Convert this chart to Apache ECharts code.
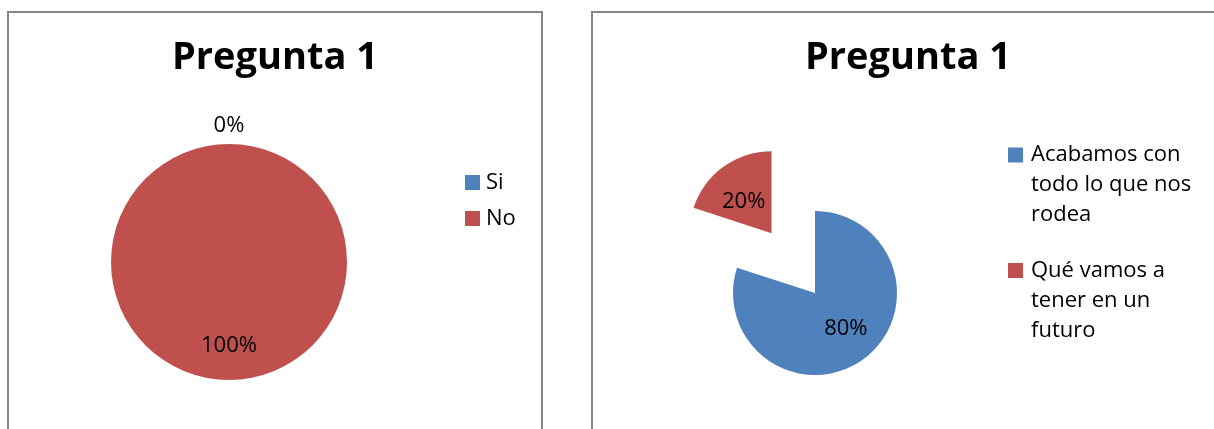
<!DOCTYPE html>
<html>
<head>
<meta charset="utf-8">
<script src="https://cdn.jsdelivr.net/npm/echarts@6/dist/echarts.min.js"></script>
<style>
  html, body { margin: 0; padding: 0; background: #fff; width: 1214px; height: 429px; overflow: hidden; }
  .box { position: absolute; box-sizing: border-box; border: 2px solid #868686; background: #fff; }
  #left { left: 7px; top: 11px; width: 536px; height: 440px; }
  #right { left: 591px; top: 11px; width: 634px; height: 440px; }
  .chart { width: 100%; height: 100%; }
</style>
</head>
<body>
<div class="box" id="left"><div class="chart" id="c1"></div></div>
<div class="box" id="right"><div class="chart" id="c2"></div></div>
<script>
// Question 1, first version: yes / no answers
const titleText = 'Pregunta 1';
const cats1 = ['Si', 'No'];
const vals1 = [0, 100];

// Question 1, second version: two answer options
const cats2 = ['Acabamos con todo lo que nos rodea', 'Qué vamos a tener en un futuro'];
const vals2 = [80, 20];
const legendLines2 = [['Acabamos con', 'todo lo que nos', 'rodea'], ['Qué vamos a', 'tener en un', 'futuro']];

const BLUE = '#4F81BD';
const RED = '#C0504D';
const FONT = '"Open Sans", sans-serif';

const textRich = { fontFamily: FONT, fontSize: 22, lineHeight: 30, color: '#000' };

// Percentage text, optionally with a blank spacer line above or below it
function pctLabel(spacerAbove, spacerBelow) {
  return p => {
    const t = '{t|' + Math.round(p.percent) + '%}';
    if (spacerAbove) return '{sa| }\n' + t;
    if (spacerBelow) return t + '\n{sb| }';
    return t;
  };
}

function pieLabel(spacerAbove, spacerBelow, padding) {
  return {
    position: 'inside',
    formatter: pctLabel(spacerAbove, spacerBelow),
    padding: padding || 0,
    rich: {
      t: textRich,
      sa: { fontSize: 1, lineHeight: spacerAbove || 1 },
      sb: { fontSize: 1, lineHeight: spacerBelow || 1 }
    }
  };
}

function titleOpt() {
  return {
    text: titleText,
    left: 'center',
    top: 26,
    padding: 0,
    textStyle: { fontFamily: FONT, fontWeight: 'bold', fontSize: 38, color: '#000' }
  };
}

// Left pie
const chart1 = echarts.init(document.getElementById('c1'), null, { renderer: 'canvas' });
chart1.setOption({
  animation: false,
  title: titleOpt(),
  legend: {
    orient: 'vertical',
    left: 456,
    top: 158.5,
    padding: 0,
    itemWidth: 15,
    itemHeight: 15,
    itemGap: 14,
    icon: 'rect',
    selectedMode: false,
    data: cats1,
    textStyle: { fontFamily: FONT, fontSize: 22, color: '#000', padding: [0, 0, 0, 1] }
  },
  series: [{
    type: 'pie',
    center: [220, 249],
    radius: 118,
    startAngle: 90,
    clockwise: true,
    avoidLabelOverlap: false,
    minShowLabelAngle: 0,
    labelLine: { show: false },
    emphasis: { disabled: true },
    data: cats1.map((name, i) => ({
      name,
      value: vals1[i],
      itemStyle: { color: i === 0 ? BLUE : RED },
      label: i === 0 ? pieLabel(0, 148) : pieLabel(44, 0)
    }))
  }]
});

// Right pie with the second slice pulled out
const chart2 = echarts.init(document.getElementById('c2'), null, { renderer: 'canvas' });
chart2.setOption({
  animation: false,
  title: titleOpt(),
  legend: {
    orient: 'vertical',
    left: 415,
    top: 96.5,
    padding: 0,
    itemWidth: 15,
    itemHeight: 15,
    itemGap: -1,
    icon: 'rect',
    selectedMode: false,
    data: cats2,
    formatter: name => '{sp| }\n' + legendLines2[cats2.indexOf(name)].map(s => '{t|' + s + '}').join('\n'),
    textStyle: {
      fontFamily: FONT, fontSize: 22, color: '#000', padding: [0, 0, 0, 3],
      rich: { t: textRich, sp: { fontSize: 1, lineHeight: 60 } }
    }
  },
  series: [{
    type: 'pie',
    center: [222, 280],
    radius: 82,
    startAngle: 90,
    clockwise: true,
    avoidLabelOverlap: false,
    selectedMode: 'single',
    selectedOffset: 74,
    labelLine: { show: false },
    emphasis: { disabled: true },
    data: cats2.map((name, i) => ({
      name,
      value: vals2[i],
      selected: i === 1,
      itemStyle: { color: i === 0 ? BLUE : RED },
      label: i === 0 ? pieLabel(0, 0, [0, 0, 0, 10]) : pieLabel(8, 0, [0, 4, 0, 0])
    }))
  }]
});
</script>
</body>
</html>
